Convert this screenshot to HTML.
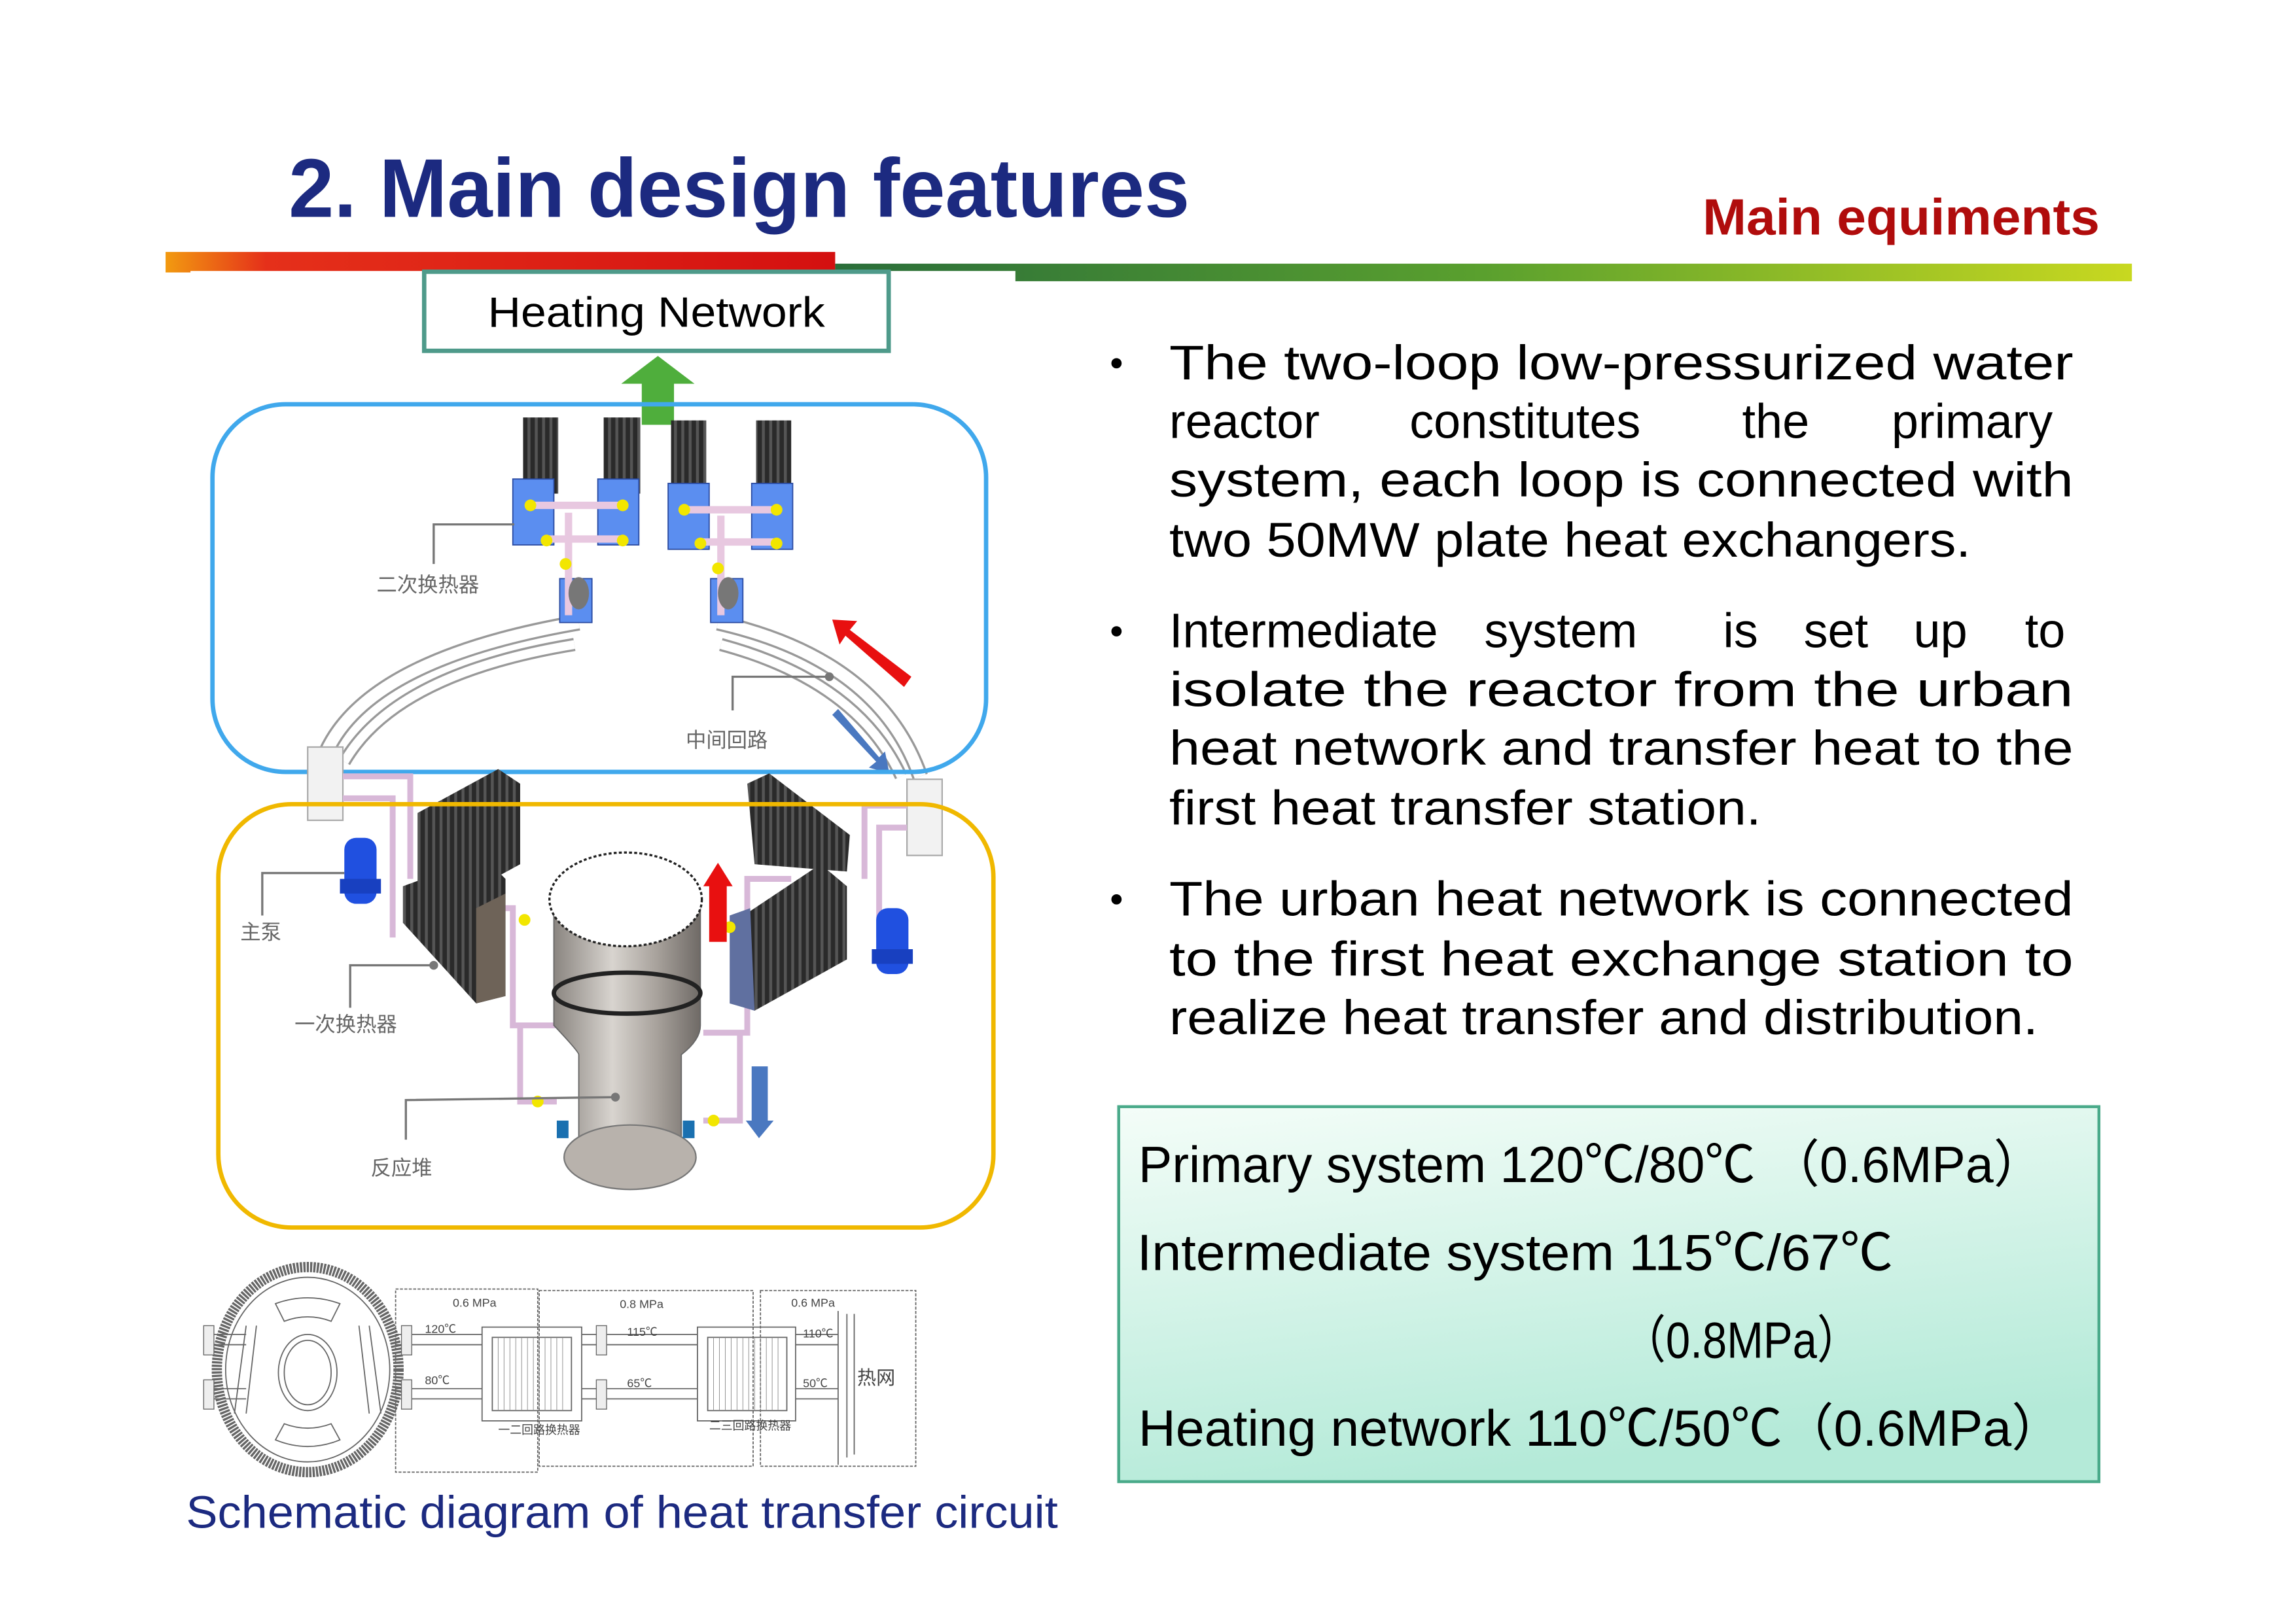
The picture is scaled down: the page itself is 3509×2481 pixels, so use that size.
<!DOCTYPE html>
<html><head><meta charset="utf-8"><style>
html,body{margin:0;padding:0;background:#fff;width:3509px;height:2481px;overflow:hidden}
svg{display:block}
text{font-family:"Liberation Sans","Noto Sans CJK SC",sans-serif}
</style></head><body>
<svg width="3509" height="2481" viewBox="0 0 1567 1108" preserveAspectRatio="none" xmlns="http://www.w3.org/2000/svg">
<defs>
<linearGradient id="rb" x1="0" x2="1"><stop offset="0" stop-color="#f29a10"/><stop offset="0.15" stop-color="#e5301a"/><stop offset="1" stop-color="#d41010"/></linearGradient>
<linearGradient id="gb" x1="0" x2="1"><stop offset="0" stop-color="#2a6e3a"/><stop offset="0.5" stop-color="#5aa02e"/><stop offset="1" stop-color="#c8d820"/></linearGradient>
<linearGradient id="box" x1="0" y1="0" x2="0.3" y2="1"><stop offset="0" stop-color="#f4fdf8"/><stop offset="1" stop-color="#b4ead8"/></linearGradient>
<linearGradient id="ves" x1="0" x2="1"><stop offset="0" stop-color="#8a8580"/><stop offset="0.4" stop-color="#d8d4cf"/><stop offset="0.7" stop-color="#a8a29c"/><stop offset="1" stop-color="#6f6a66"/></linearGradient>
<pattern id="hx" width="5" height="5" patternUnits="userSpaceOnUse"><rect width="5" height="5" fill="#2a2a2a"/><rect width="2" height="5" fill="#555"/></pattern>
</defs>

<text x="197" y="148" font-size="57" font-weight="bold" fill="#1c2a80" textLength="615" lengthAdjust="spacingAndGlyphs">2. Main design features</text>
<text x="1162" y="160" font-size="35" font-weight="bold" fill="#b00c0c" textLength="271" lengthAdjust="spacingAndGlyphs">Main equiments</text>
<rect x="113" y="172" width="457" height="14" fill="url(#rb)"/>
<rect x="570" y="180" width="885" height="12" fill="url(#gb)"/>
<rect x="130" y="185" width="563" height="10" fill="#fff"/>

<rect x="289.5" y="185.5" width="317" height="54" fill="#fff" stroke="#4e9a8a" stroke-width="3"/>
<text x="333" y="223" font-size="29" fill="#000" textLength="230" lengthAdjust="spacingAndGlyphs">Heating Network</text>
<polygon points="438,262 438,290 460,290 460,262 474,262 449,243 424,262" fill="#4fae3c"/>

<g>
<path d="M395,425 Q250,450 222,515" fill="none" stroke="#999" stroke-width="11"/>
<path d="M395,425 Q250,450 222,515" fill="none" stroke="#fff" stroke-width="8"/>
<path d="M392,440 Q270,460 235,520" fill="none" stroke="#999" stroke-width="9"/>
<path d="M392,440 Q270,460 235,520" fill="none" stroke="#fff" stroke-width="6"/>
<path d="M490,425 Q600,450 628,530" fill="none" stroke="#999" stroke-width="11"/>
<path d="M490,425 Q600,450 628,530" fill="none" stroke="#fff" stroke-width="8"/>
<path d="M492,440 Q585,465 615,530" fill="none" stroke="#999" stroke-width="9"/>
<path d="M492,440 Q585,465 615,530" fill="none" stroke="#fff" stroke-width="6"/>
<g fill="url(#hx)">
<rect x="357" y="285" width="24" height="52"/><rect x="412" y="285" width="25" height="52"/>
<rect x="458" y="287" width="24" height="52"/><rect x="516" y="287" width="24" height="52"/>
</g>
<g fill="#5b8ef0" stroke="#2a4aa0" stroke-width="0.8">
<rect x="350" y="327" width="28" height="45"/><rect x="408" y="327" width="28" height="45"/>
<rect x="456" y="330" width="28" height="45"/><rect x="513" y="330" width="28" height="45"/>
<rect x="382" y="395" width="22" height="30"/><rect x="485" y="395" width="22" height="30"/>
</g>
<g fill="none" stroke="#e8c8e0" stroke-width="5">
<path d="M362,345 H425 M372,368 H425 M388,350 V420"/>
<path d="M467,348 H530 M478,370 H530 M492,352 V420"/>
</g>
<g fill="#f2e600"><circle cx="362" cy="345" r="4"/><circle cx="425" cy="345" r="4"/><circle cx="373" cy="369" r="4"/><circle cx="425" cy="369" r="4"/><circle cx="386" cy="385" r="4"/><circle cx="467" cy="348" r="4"/><circle cx="530" cy="348" r="4"/><circle cx="478" cy="371" r="4"/><circle cx="530" cy="371" r="4"/><circle cx="490" cy="388" r="4"/></g>
<ellipse cx="395" cy="405" rx="7" ry="11" fill="#777"/><ellipse cx="497" cy="405" rx="7" ry="11" fill="#777"/>
</g>
<polyline points="351,358 296,358 296,385" fill="none" stroke="#777" stroke-width="1.5"/>
<text x="257" y="404" font-size="14" fill="#666">二次换热器</text>
<polyline points="566,462 500,462 500,485" fill="none" stroke="#777" stroke-width="1.5"/>
<circle cx="566" cy="462" r="3" fill="#777"/>
<text x="468" y="510" font-size="14" fill="#666">中间回路</text>
<polygon points="622,462 580,430 585,424 568,423 573,440 577,434 617,469" fill="#e81010"/>
<polygon points="568,488 598,520 593,524 607,528 604,513 600,517 572,484" fill="#4a78c0"/>

<rect x="145" y="276" width="528" height="251" rx="50" fill="none" stroke="#40a8ec" stroke-width="3"/>

<rect x="210" y="510" width="24" height="50" fill="#f2f2f2" stroke="#aaa"/>
<rect x="619" y="532" width="24" height="52" fill="#f2f2f2" stroke="#aaa"/>
<g fill="none" stroke="#d8b8d8" stroke-width="4">
<path d="M234,530 H280 V600 M234,545 H268 V640 M300,620 H350 V700 H380 M355,700 V752 H380"/>
<path d="M619,550 H590 V600 M619,565 H600 V640 M540,600 H510 V705 H480 M505,705 V765 H480"/>
</g>
<g fill="url(#hx)">
<polygon points="285,555 340,525 355,535 355,590 300,620 285,610"/>
<polygon points="275,605 330,585 345,600 345,680 325,685 275,630"/>
<polygon points="510,535 525,528 580,570 578,595 515,590"/>
<polygon points="500,630 560,590 578,605 578,655 515,690 500,680"/>
</g>
<polygon points="325,620 345,610 345,680 325,685" fill="#6e6358"/>
<polygon points="498,625 512,620 515,690 498,685" fill="#6070a0"/>
<rect x="235" y="572" width="22" height="45" rx="8" fill="#2050e0"/><rect x="232" y="600" width="28" height="10" fill="#1840c0"/>
<rect x="598" y="620" width="22" height="45" rx="8" fill="#2050e0"/><rect x="595" y="648" width="28" height="10" fill="#1840c0"/>
<path d="M378,615 V700 Q395,718 395,720 V800 H465 V720 Q478,710 478,700 V615 Z" fill="url(#ves)" stroke="#666" stroke-width="0.8"/>
<ellipse cx="430" cy="790" rx="45" ry="22" fill="#b8b2ac" stroke="#777"/>
<ellipse cx="428" cy="678" rx="50" ry="14" fill="none" stroke="#222" stroke-width="3"/>
<ellipse cx="427" cy="614" rx="52" ry="32" fill="#fff" stroke="#222" stroke-width="1.5" stroke-dasharray="2,1.5"/>
<g fill="#f2e600"><circle cx="367" cy="752" r="4"/><circle cx="487" cy="765" r="4"/><circle cx="358" cy="628" r="4"/><circle cx="498" cy="633" r="4"/></g>
<rect x="380" y="765" width="8" height="12" fill="#1a70b0"/><rect x="466" y="765" width="8" height="12" fill="#1a70b0"/>
<rect x="484" y="603" width="12" height="40" fill="#e81010"/><polygon points="480,605 490,589 500,605" fill="#e81010"/>
<rect x="513" y="728" width="11" height="40" fill="#4a78c0"/><polygon points="509,765 518,777 528,765" fill="#4a78c0"/>
<polyline points="235,596 179,596 179,625" fill="none" stroke="#777" stroke-width="1.5"/>
<text x="164" y="641" font-size="14" fill="#666">主泵</text>
<polyline points="296,659 239,659 239,688" fill="none" stroke="#777" stroke-width="1.5"/><circle cx="296" cy="659" r="3" fill="#777"/>
<text x="201" y="704" font-size="14" fill="#666">一次换热器</text>
<polyline points="420,749 277,751 277,778" fill="none" stroke="#777" stroke-width="1.5"/><circle cx="420" cy="749" r="3" fill="#777"/>
<text x="253" y="802" font-size="14" fill="#666">反应堆</text>

<rect x="149" y="549" width="529" height="289" rx="50" fill="none" stroke="#f0b800" stroke-width="3"/>

<g stroke="#666" fill="none" stroke-width="0.8">
<ellipse cx="210" cy="935" rx="62" ry="70" stroke="#666" stroke-width="7" stroke-dasharray="1.5,0.8"/>
<ellipse cx="210" cy="935" rx="56" ry="63"/>
<ellipse cx="210" cy="937" rx="20" ry="26"/><ellipse cx="210" cy="937" rx="16" ry="22"/>
<path d="M188,890 Q210,882 232,890 L226,902 Q210,896 194,902 Z"/>
<path d="M188,983 Q210,992 232,983 L226,972 Q210,978 194,972 Z"/>
<path d="M168,905 L160,965 M175,905 L168,965 M252,905 L260,965 M245,905 L252,965"/>
<rect x="270" y="880" width="97" height="125" stroke-dasharray="2,1"/>
<rect x="368" y="881" width="146" height="120" stroke-dasharray="2,1"/>
<rect x="519" y="881" width="106" height="120" stroke-dasharray="2,1"/>
<rect x="329" y="906" width="68" height="64"/><rect x="336" y="913" width="54" height="50"/>
<rect x="476" y="906" width="67" height="64"/><rect x="483" y="913" width="54" height="50"/>
<path d="M270,911 H329 M270,918 H329 M270,948 H329 M270,955 H329 M397,911 H476 M397,918 H476 M397,948 H476 M397,955 H476 M543,911 H572 M543,918 H572 M543,948 H572 M543,955 H572"/>
<path d="M142,911 H168 M142,918 H168 M142,948 H168 M142,955 H168"/>
<path d="M572,895 V1000 M578,897 V995 M583,897 V993"/>
</g>
<g stroke="#888" stroke-width="0.4">
<path d="M340,913 V963 M344,913 V963 M348,913 V963 M352,913 V963 M356,913 V963 M360,913 V963 M364,913 V963 M368,913 V963 M372,913 V963 M376,913 V963 M380,913 V963 M384,913 V963"/>
<path d="M487,913 V963 M491,913 V963 M495,913 V963 M499,913 V963 M503,913 V963 M507,913 V963 M511,913 V963 M515,913 V963 M519,913 V963 M523,913 V963 M527,913 V963 M531,913 V963"/>
</g>
<g fill="#eee" stroke="#666" stroke-width="0.6">
<rect x="139" y="905" width="7" height="20"/><rect x="139" y="942" width="7" height="20"/>
<rect x="274" y="905" width="7" height="20"/><rect x="274" y="942" width="7" height="20"/>
<rect x="407" y="905" width="7" height="20"/><rect x="407" y="942" width="7" height="20"/>
</g>
<g font-family="Liberation Serif,Noto Serif CJK SC,serif" font-size="8" fill="#444">
<text x="309" y="892">0.6 MPa</text><text x="423" y="893">0.8 MPa</text><text x="540" y="892">0.6 MPa</text>
<text x="290" y="910">120℃</text><text x="290" y="945">80℃</text>
<text x="428" y="912">115℃</text><text x="428" y="947">65℃</text>
<text x="548" y="913">110℃</text><text x="548" y="947">50℃</text>
<text x="340" y="979">一二回路换热器</text><text x="484" y="976">二三回路换热器</text>
<text x="585" y="945" font-size="13">热网</text>
</g>
<text x="127" y="1043" font-size="31" fill="#1c2a80" textLength="595" lengthAdjust="spacingAndGlyphs">Schematic diagram of heat transfer circuit</text>

<g font-size="33" fill="#000">
<circle cx="762" cy="248" r="3.5"/><circle cx="762" cy="431" r="3.5"/><circle cx="762" cy="614" r="3.5"/>
<text x="798" y="259" textLength="617" lengthAdjust="spacingAndGlyphs">The two-loop low-pressurized water</text>
<text y="299"><tspan x="798">reactor</tspan><tspan x="962">constitutes</tspan><tspan x="1189">the</tspan><tspan x="1291">primary</tspan></text>
<text x="798" y="339" textLength="617" lengthAdjust="spacingAndGlyphs">system, each loop is connected with</text>
<text x="798" y="380" textLength="547" lengthAdjust="spacingAndGlyphs">two 50MW plate heat exchangers.</text>
<text y="442"><tspan x="798">Intermediate</tspan><tspan x="1013">system</tspan><tspan x="1176">is</tspan><tspan x="1231">set</tspan><tspan x="1306">up</tspan><tspan x="1382">to</tspan></text>
<text x="798" y="482" textLength="617" lengthAdjust="spacingAndGlyphs">isolate the reactor from the urban</text>
<text x="798" y="522" textLength="617" lengthAdjust="spacingAndGlyphs">heat network and transfer heat to the</text>
<text x="798" y="563" textLength="404" lengthAdjust="spacingAndGlyphs">first heat transfer station.</text>
<text x="798" y="625" textLength="617" lengthAdjust="spacingAndGlyphs">The urban heat network is connected</text>
<text x="798" y="666" textLength="617" lengthAdjust="spacingAndGlyphs">to the first heat exchange station to</text>
<text x="798" y="706" textLength="593" lengthAdjust="spacingAndGlyphs">realize heat transfer and distribution.</text>
</g>

<rect x="763.5" y="755.5" width="669" height="256" fill="url(#box)" stroke="#4aaa8a" stroke-width="2"/>
<g font-size="35" fill="#000">
<text x="777" y="807" textLength="618" lengthAdjust="spacingAndGlyphs">Primary system 120℃/80℃ （0.6MPa）</text>
<text x="776" y="867" textLength="516" lengthAdjust="spacingAndGlyphs">Intermediate system 115℃/67℃</text>
<text x="1107" y="927" textLength="163" lengthAdjust="spacingAndGlyphs">（0.8MPa）</text>
<text x="777" y="987" textLength="631" lengthAdjust="spacingAndGlyphs">Heating network 110℃/50℃（0.6MPa）</text>
</g>
</svg>
</body></html>
